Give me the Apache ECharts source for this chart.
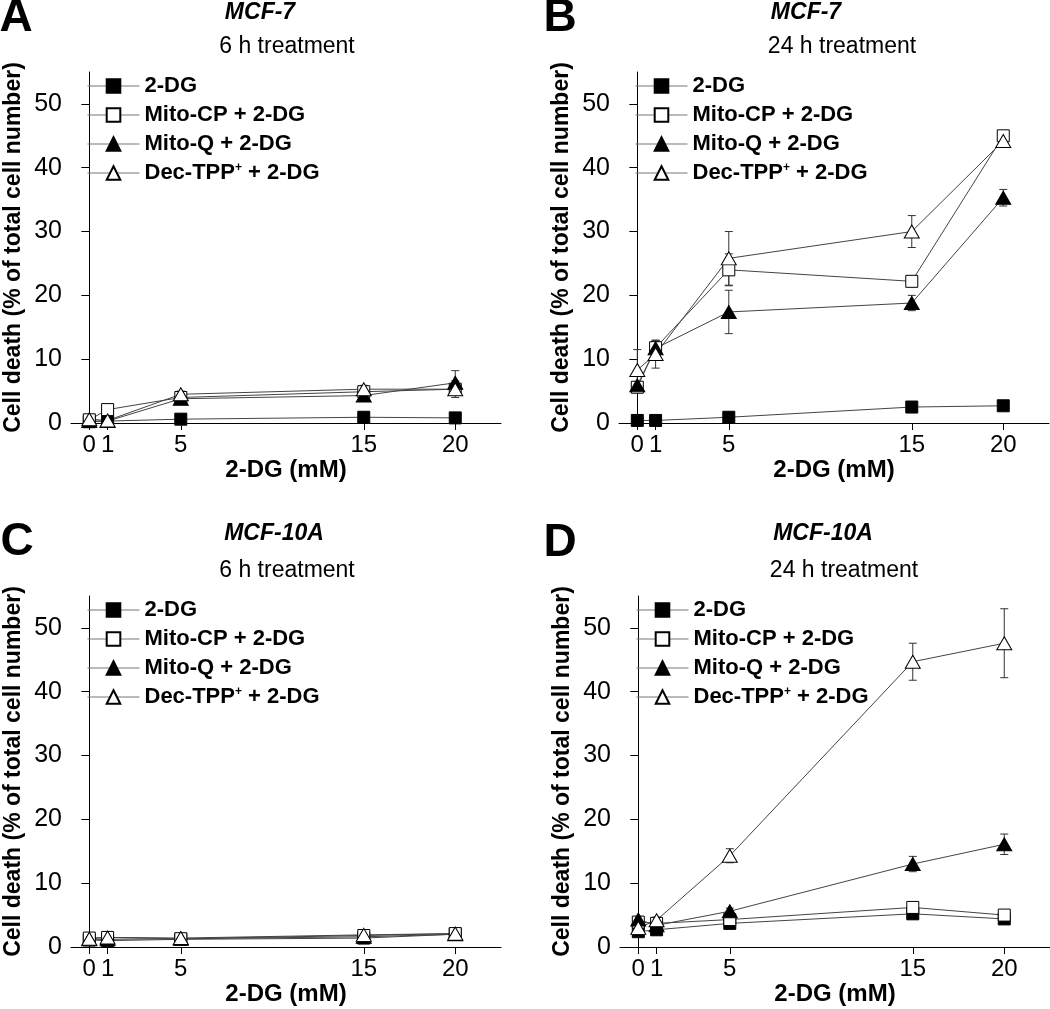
<!DOCTYPE html>
<html>
<head>
<meta charset="utf-8">
<title>Cell death vs 2-DG</title>
<script src="https://cdn.jsdelivr.net/npm/echarts@6/dist/echarts.min.js"></script>
<style>
  html, body { margin: 0; padding: 0; background: #fff; }
  #chart { width: 1050px; height: 1009px; }
</style>
</head>
<body>
<div id="chart"></div>
<script>
// 2-DG 浓度 (mM)
const doses = [0, 1, 5, 15, 20]
// 刻度
const xTicks = [0, 1, 5, 15, 20]
const yTicks = [0, 10, 20, 30, 40, 50]
const seriesNames = ['2-DG', 'Mito-CP + 2-DG', 'Mito-Q + 2-DG', 'Dec-TPP+ + 2-DG']

// A：MCF-7，6 h
const aDg = [0.2, 0.3, 0.6, 0.9, 0.8]
const aDgErr = [0.1, 0.1, 0.2, 0.2, 0.2]
const aCp = [0.5, 2.1, 4.0, 4.9, 5.3]
const aCpErr = [0.2, 0.5, 0.4, 0.5, 0.5]
const aMq = [0.3, 0.3, 3.8, 4.3, 6.3]
const aMqErr = [0.2, 0.2, 0.8, 0.9, 1.9]
const aDt = [0.6, 0.4, 4.5, 5.3, 5.3]
const aDtErr = [0.3, 0.3, 0.5, 0.6, 1.3]

// B：MCF-7，24 h
const bDg = [0.4, 0.4, 0.9, 2.5, 2.7]
const bDgErr = [0.1, 0.1, 0.2, 0.3, 0.3]
const bCp = [5.6, 11.8, 24.0, 22.2, 45.0]
const bCpErr = [0.6, 1.0, 2.5, 0.5, 0.6]
const bMq = [5.9, 11.7, 17.4, 18.8, 35.3]
const bMqErr = [0.6, 1.2, 3.4, 1.2, 1.3]
const bDt = [8.3, 10.8, 25.8, 30.0, 44.2]
const bDtErr = [3.2, 2.2, 4.2, 2.5, 1.0]

// C：MCF-10A，6 h
const cDg = [1.1, 1.0, 1.2, 1.4, 2.0]
const cDgErr = [0.3, 0.3, 0.3, 0.3, 0.3]
const cCp = [1.4, 1.5, 1.3, 1.8, 2.1]
const cCpErr = [0.3, 0.3, 0.3, 0.4, 0.4]
const cMq = [1.2, 1.2, 1.3, 1.6, 2.0]
const cMqErr = [0.3, 0.3, 0.3, 0.4, 0.4]
const cDt = [1.3, 1.5, 1.4, 1.9, 2.1]
const cDtErr = [0.3, 0.3, 0.3, 0.4, 0.4]

// D：MCF-10A，24 h
const dDg = [2.4, 2.7, 3.7, 5.2, 4.4]
const dDgErr = [0.3, 0.3, 0.3, 0.4, 0.4]
const dCp = [3.9, 3.7, 4.3, 6.2, 5.0]
const dCpErr = [0.5, 0.4, 0.6, 0.8, 0.6]
const dMq = [4.3, 3.4, 5.6, 13.0, 16.1]
const dMqErr = [0.5, 0.4, 0.5, 1.2, 1.6]
const dDt = [3.0, 4.2, 14.3, 44.7, 47.6]
const dDtErr = [0.6, 0.5, 1.1, 2.9, 5.4]

const FONT = '"Liberation Sans", Arial, Helvetica, sans-serif'

// 每个子图：网格位置、标题、数据
const panels = [
  { letter: 'A', left: 71, top: 72, cell: 'MCF-7', time: '6 h treatment',
    means: [aDg, aCp, aMq, aDt], errs: [aDgErr, aCpErr, aMqErr, aDtErr],
    letterPos: [16, 18], cellPos: [260, 13], timePos: [287, 47] },
  { letter: 'B', left: 619, top: 72, cell: 'MCF-7', time: '24 h treatment',
    means: [bDg, bCp, bMq, bDt], errs: [bDgErr, bCpErr, bMqErr, bDtErr],
    letterPos: [560, 18], cellPos: [806, 13], timePos: [842, 47] },
  { letter: 'C', left: 71, top: 596, cell: 'MCF-10A', time: '6 h treatment',
    means: [cDg, cCp, cMq, cDt], errs: [cDgErr, cCpErr, cMqErr, cDtErr],
    letterPos: [17, 542], cellPos: [274, 534], timePos: [287, 571] },
  { letter: 'D', left: 620, top: 596, cell: 'MCF-10A', time: '24 h treatment',
    means: [dDg, dCp, dMq, dDt], errs: [dDgErr, dCpErr, dMqErr, dDtErr],
    letterPos: [560, 543], cellPos: [823, 534], timePos: [844, 571] }
]

// 标记样式：实心方块、空心方块、实心三角、空心三角
const markers = [
  { symbol: 'rect', size: 12, fill: '#000' },
  { symbol: 'rect', size: 12, fill: '#fff' },
  { symbol: 'triangle', size: [15, 13], fill: '#000' },
  { symbol: 'triangle', size: [15, 13], fill: '#fff' }
]

/**
 * 误差线
 */
const renderErrorBar = (params, api) => {
  const x = api.value(0)
  const mean = api.value(1)
  const err = api.value(2)
  const top = api.coord([x, mean + err])
  const bottom = api.coord([x, mean - err])
  const cap = 4
  const style = { stroke: '#333', lineWidth: 1 }
  return {
    type: 'group',
    children: [
      { type: 'line', shape: { x1: top[0], y1: top[1], x2: bottom[0], y2: bottom[1] }, style },
      { type: 'line', shape: { x1: top[0] - cap, y1: top[1], x2: top[0] + cap, y2: top[1] }, style },
      { type: 'line', shape: { x1: bottom[0] - cap, y1: bottom[1], x2: bottom[0] + cap, y2: bottom[1] }, style }
    ]
  }
}

const grids = []
const xAxes = []
const yAxes = []
const legends = []
const series = []
const graphics = []

panels.forEach((p, i) => {
  grids.push({ left: p.left, top: p.top, width: 430, height: 351 })

  xAxes.push({
    gridIndex: i,
    type: 'value',
    min: -1,
    max: 22.5,
    name: '2-DG (mM)',
    nameLocation: 'middle',
    nameGap: 34,
    nameTextStyle: { fontSize: 24, fontWeight: 'bold', color: '#000', fontFamily: FONT },
    axisLine: { show: true, onZero: false, lineStyle: { color: '#000', width: 1 } },
    axisTick: { show: true, length: 7, customValues: xTicks, lineStyle: { color: '#000' } },
    axisLabel: { customValues: xTicks, fontSize: 24, color: '#000', margin: 10, fontFamily: FONT },
    splitLine: { show: false }
  })

  yAxes.push({
    gridIndex: i,
    type: 'value',
    min: 0,
    max: 55,
    name: 'Cell death (% of total cell number)',
    nameLocation: 'middle',
    nameGap: 46,
    nameTextStyle: { fontSize: 23, fontWeight: 'bold', color: '#000', fontFamily: FONT },
    axisLine: { show: true, lineStyle: { color: '#000', width: 1 } },
    axisTick: { show: true, length: 8, customValues: yTicks, lineStyle: { color: '#000' } },
    axisLabel: { customValues: yTicks, fontSize: 25, color: '#000', margin: 9, fontFamily: FONT },
    splitLine: { show: false }
  })

  legends.push({
    orient: 'vertical',
    left: p.left + 11,
    top: p.top - 2,
    itemWidth: 52,
    itemHeight: 17,
    itemGap: 7,
    selectedMode: false,
    data: seriesNames,
    lineStyle: { color: '#777', width: 1 },
    formatter: (name) => (name === 'Dec-TPP+ + 2-DG' ? 'Dec-TPP{s|+} + 2-DG' : name),
    textStyle: {
      fontSize: 22,
      fontWeight: 'bold',
      color: '#000',
      fontFamily: FONT,
      lineHeight: 22,
      rich: {
        s: { fontSize: 12, fontWeight: 'bold', fontFamily: FONT, verticalAlign: 'top', lineHeight: 12 }
      }
    }
  })

  seriesNames.forEach((name, j) => {
    const m = markers[j]
    // 误差线
    series.push({
      type: 'custom',
      xAxisIndex: i,
      yAxisIndex: i,
      silent: true,
      z: 2,
      renderItem: renderErrorBar,
      encode: { x: 0, y: 1 },
      data: doses.map((d, k) => [d, p.means[j][k], p.errs[j][k]])
    })
    // 折线 + 标记
    series.push({
      name,
      type: 'line',
      xAxisIndex: i,
      yAxisIndex: i,
      z: 3,
      symbol: m.symbol,
      symbolSize: m.size,
      showSymbol: true,
      lineStyle: { color: '#444', width: 1 },
      itemStyle: { color: m.fill, borderColor: '#000', borderWidth: 1 },
      emphasis: { disabled: true },
      data: doses.map((d, k) => [d, p.means[j][k]])
    })
  })

  // 子图字母与标题
  graphics.push(
    { type: 'text', x: p.letterPos[0], y: p.letterPos[1],
      style: { text: p.letter, font: 'bold 46px ' + FONT, fill: '#000', align: 'center', verticalAlign: 'middle' } },
    { type: 'text', x: p.cellPos[0], y: p.cellPos[1],
      style: { text: p.cell, font: 'italic bold 23px ' + FONT, fill: '#000', align: 'center', verticalAlign: 'middle' } },
    { type: 'text', x: p.timePos[0], y: p.timePos[1],
      style: { text: p.time, font: '23px ' + FONT, fill: '#000', align: 'center', verticalAlign: 'middle' } }
  )
})

const mChart = echarts.init(document.getElementById('chart'))
mChart.setOption({
  animation: false,
  backgroundColor: '#fff',
  grid: grids,
  xAxis: xAxes,
  yAxis: yAxes,
  legend: legends,
  series,
  graphic: graphics
})
</script>
</body>
</html>
